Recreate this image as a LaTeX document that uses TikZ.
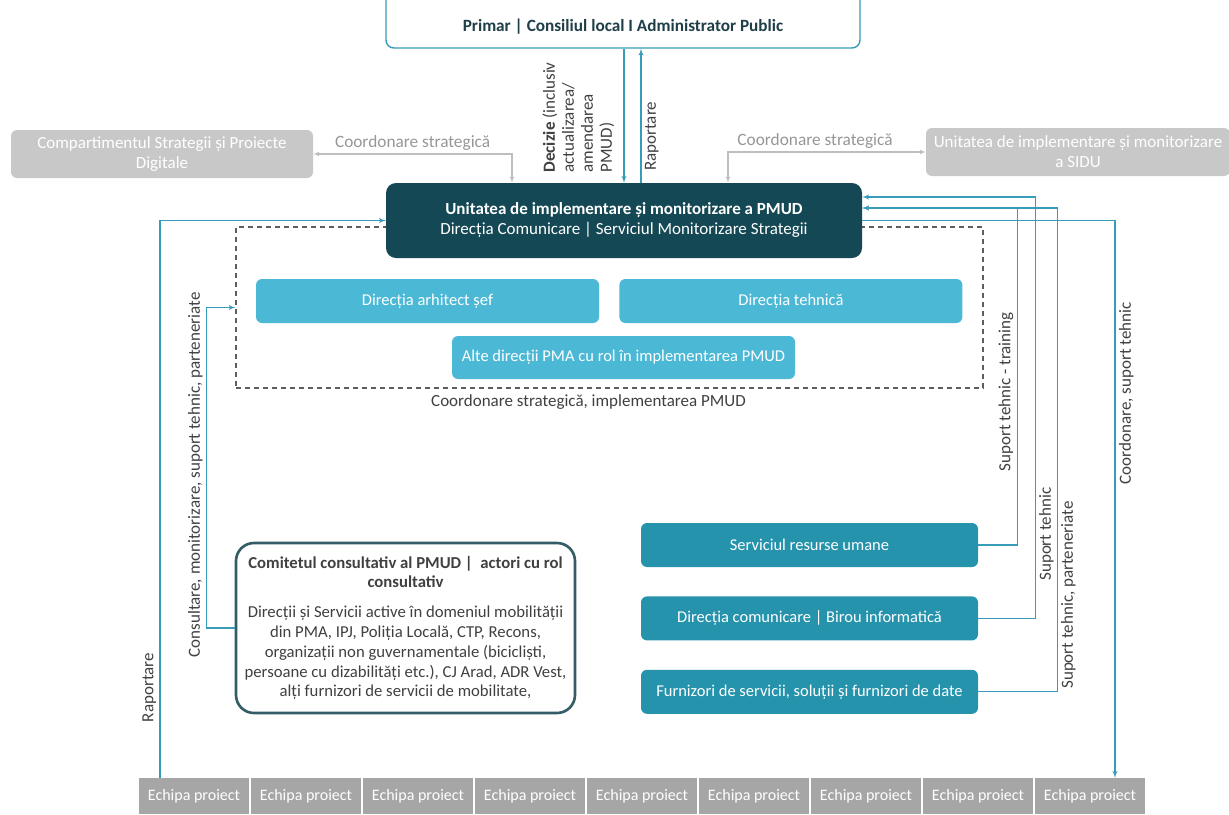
\documentclass[tikz,border=0pt]{standalone}
\usepackage{fontspec}
\setmainfont{Carlito}
\usetikzlibrary{shapes,arrows,positioning,fit,backgrounds}

\definecolor{tealline}{RGB}{55,155,185}
\definecolor{darkunit}{RGB}{20,72,84}
\definecolor{lightdir}{RGB}{75,185,214}
\definecolor{servblue}{RGB}{38,147,173}
\definecolor{boxgray}{RGB}{200,200,200}
\definecolor{linegray}{RGB}{190,190,190}
\definecolor{labelgray}{RGB}{150,150,150}
\definecolor{teamgray}{RGB}{166,166,166}
\definecolor{comborder}{RGB}{52,92,102}
\definecolor{textdark}{RGB}{64,64,64}
\definecolor{topblue}{RGB}{30,62,72}

\begin{document}
\begin{tikzpicture}[x=1pt, y=-1pt, >=latex', font=\fontsize{17}{20}\selectfont]
    \tikzstyle{topbox}   = [draw=tealline, line width=1.4pt, rounded corners=8pt, fill=white, minimum width=474pt, inner sep=0pt, text height=51.5pt, text depth=16.5pt, font=\fontsize{17.2}{20}\selectfont\bfseries, text=topblue]
    \tikzstyle{unitbox}  = [rectangle, fill=darkunit, rounded corners=10pt, minimum width=476pt, minimum height=75pt, text=white, align=center, font=\fontsize{17}{20}\selectfont]
    \tikzstyle{dirbox}   = [rectangle, fill=lightdir, rounded corners=6pt, minimum width=343pt, minimum height=44pt, text=white, font=\fontsize{16.5}{20}\selectfont]
    \tikzstyle{servbox}  = [rectangle, fill=servblue, rounded corners=6pt, minimum width=337pt, minimum height=44pt, text=white, font=\fontsize{16.5}{20}\selectfont]
    \tikzstyle{graybox}  = [rectangle, fill=boxgray, rounded corners=6pt, minimum width=302pt, minimum height=48pt, text=white, align=center, inner sep=2pt, font=\fontsize{17}{20}\selectfont]
    \tikzstyle{teambox}  = [rectangle, fill=teamgray, minimum width=110.5pt, minimum height=36pt, text=white, inner sep=0pt, font=\fontsize{16}{18}\selectfont]
    \tikzstyle{groupbox} = [draw=textdark!85, line width=1.1pt, dash pattern=on 5pt off 4pt, minimum width=747pt, minimum height=161pt]
    \tikzstyle{combox}   = [draw=comborder, line width=2.6pt, rounded corners=18pt, fill=white, minimum width=339pt, minimum height=170pt, align=center, text=textdark, inner sep=2pt, font=\fontsize{16.7}{19.8}\selectfont]
    \tikzstyle{link}     = [draw=tealline, line width=1.3pt]
    \tikzstyle{graylink} = [draw=linegray, line width=1.1pt]
    \tikzstyle{lbl}      = [text=textdark, font=\fontsize{17}{19}\selectfont]
    \tikzstyle{graylbl}  = [text=labelgray, font=\fontsize{17.3}{20}\selectfont]

    \useasboundingbox (0,0) rectangle (1229,814);

    % top level
    \node [topbox, anchor=base] (primar) at (623,31.5) {Primar | Consiliul local I Administrator Public};
    \node [graybox] (csp) at (162,154) {Compartimentul Strategii și Proiecte\\Digitale};
    \node [graybox, minimum width=304pt] (sidu) at (1078,152) {Unitatea de implementare și monitorizare\\a SIDU};

    % unit and its group
    \node [groupbox] (grp) at (609.5,307.5) {};
    \node [unitbox] (pmud) at (624,220.5) {\textbf{Unitatea de implementare și monitorizare a PMUD}\\Direcția Comunicare | Serviciul Monitorizare Strategii};
    \node [dirbox] (arh) at (427.5,301) {Direcția arhitect șef};
    \node [dirbox, right=20pt of arh] (teh) {Direcția tehnică};
    \node [dirbox, minimum height=43pt] (alte) at (623.5,357.5) {Alte direcții PMA cu rol în implementarea PMUD};
    \node [lbl, below=3pt of grp, xshift=-21pt] (grplbl) {Coordonare strategică, implementarea PMUD};

    % consultative committee
    \node [combox] (com) at (405.5,628) {\textbf{Comitetul consultativ al PMUD |\ \ actori cu rol}\\\textbf{consultativ}\\[10pt]
        Direcții și Servicii active în domeniul mobilității\\
        din PMA, IPJ, Poliția Locală, CTP, Recons,\\
        organizații non guvernamentale (bicicliști,\\
        persoane cu dizabilități etc.), CJ Arad, ADR Vest,\\
        alți furnizori de servicii de mobilitate,};

    % support services
    \node [servbox] (hr) at (809.5,545) {Serviciul resurse umane};
    \node [servbox, below=29pt of hr] (dc) {Direcția comunicare | Birou informatică};
    \node [servbox, below=29pt of dc] (furn) {Furnizori de servicii, soluții și furnizori de date};

    % project teams
    \foreach \i in {1,...,9}
        \node [teambox] (e\i) at ({194+(\i-1)*112},796) {Echipa proiect};

    \draw [link,->] ([xshift=1pt]primar.south) -- node[pos=0.95, rotate=90, anchor=south west, lbl, align=left, inner ysep=9pt, inner xsep=3pt] {\textbf{Decizie} (inclusiv\\actualizarea/\\amendarea\\PMUD)} (pmud.north);
    \draw [link,->] ([xshift=17pt]pmud.north) -- node[pos=0.06, rotate=90, anchor=north west, lbl] {Raportare} ([xshift=18pt]primar.south);

    \draw [graylink,<->] (csp.east) -| node[pos=0.25, above, graylbl] {Coordonare strategică} ([xshift=-112pt]pmud.north);
    \draw [graylink,<->] (sidu.west) -| node[pos=0.28, above, graylbl] {Coordonare strategică} ([xshift=104pt]pmud.north);

    \draw [link,->] ([xshift=-34pt]e1.north) |- node[pos=0.081, rotate=90, anchor=south, lbl] {Raportare} (pmud.west);
    \draw [link,->] (com.west) -- ++(-28,0) |- node[pos=0.239, rotate=90, anchor=south, lbl] {Consultare, monitorizare, suport tehnic, parteneriate} (grp.west);

    \draw [link,->] (hr.east) -- ++(39,0) |- node[pos=0.227, rotate=90, anchor=south, lbl] {Suport tehnic - training} ([yshift=12.5pt]pmud.east);
    \draw [link,->] (dc.east) -- ++(57,0) |- node[pos=0.1, rotate=90, anchor=north, lbl] {Suport tehnic} ([yshift=23.5pt]pmud.east);
    \draw [link,->] (furn.east) -- ++(79,0) |- node[pos=0.1, rotate=90, anchor=north, lbl] {Suport tehnic, parteneriate} ([yshift=12.5pt]pmud.east);
    \draw [link,->] (pmud.east) -| node[pos=0.655, rotate=90, anchor=north, lbl] {Coordonare, suport tehnic} ([xshift=25pt]e9.north);
\end{tikzpicture}
\end{document}
